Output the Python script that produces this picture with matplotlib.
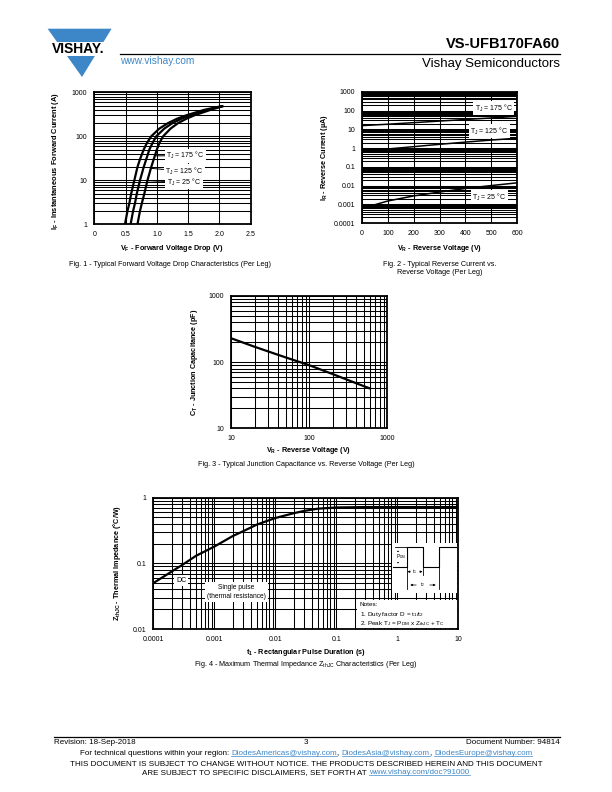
import numpy as np
import matplotlib.pyplot as plt
from matplotlib.ticker import LogLocator, NullLocator, NullFormatter
from matplotlib.patches import Polygon, Rectangle

plt.rcParams['font.family'] = ['Liberation Sans', 'DejaVu Sans']
plt.rcParams['mathtext.fontset'] = 'custom'
plt.rcParams['mathtext.rm'] = 'Liberation Sans'
plt.rcParams['mathtext.bf'] = 'Liberation Sans:bold'
plt.rcParams['mathtext.it'] = 'Liberation Sans:italic'

W, H = 612, 792
BLUE = '#3d87c8'

# Fig. 1 - forward current vs forward voltage
if_levels = [1, 2, 3, 5, 10, 20, 30, 50, 70, 100, 150, 200, 250, 300, 400, 480]
vf_175 = [0.49, 0.53, 0.56, 0.59, 0.64, 0.69, 0.73, 0.79, 0.84, 0.91, 1.04, 1.18,
          1.32, 1.47, 1.76, 2.02]
vf_125 = [0.58, 0.62, 0.65, 0.68, 0.73, 0.79, 0.83, 0.88, 0.93, 0.99, 1.12, 1.25,
          1.39, 1.53, 1.81, 2.04]
vf_25 = [0.69, 0.73, 0.76, 0.80, 0.85, 0.91, 0.95, 1.00, 1.04, 1.10, 1.22, 1.34,
         1.47, 1.60, 1.86, 2.05]
f1_xticks = [0, 0.5, 1.0, 1.5, 2.0, 2.5]
f1_xlabels = ['0', '0.5', '1.0', '1.5', '2.0', '2.5']
f1_yticks = [1, 10, 100, 1000]

# Fig. 2 - reverse current vs reverse voltage
vr = [0, 100, 200, 300, 400, 500, 600]
ir_175 = [16, 19, 23, 28, 34, 41, 50]
ir_125 = [0.6, 0.9, 1.2, 1.6, 2.1, 2.7, 3.4]
ir_25 = [0.0006, 0.0015, 0.0028, 0.0045, 0.007, 0.010, 0.014]
f2_yticks = [0.0001, 0.001, 0.01, 0.1, 1, 10, 100, 1000]
f2_ylabels = ['0.0001', '0.001', '0.01', '0.1', '1', '10', '100', '1000']

# Fig. 3 - junction capacitance
vr_cap = [10, 20, 30, 50, 100, 200, 400, 600]
ct = [230, 171, 145, 118, 90, 66, 48, 40]

# Fig. 4 - thermal impedance
t1 = [1e-4, 2e-4, 3e-4, 5e-4, 1e-3, 2e-3, 3e-3, 5e-3, 1e-2, 2e-2, 3e-2,
      5e-2, 0.1, 0.3, 1, 3, 10]
zth = [0.05, 0.075, 0.095, 0.13, 0.18, 0.26, 0.31, 0.39, 0.49, 0.58, 0.63,
       0.68, 0.71, 0.72, 0.72, 0.72, 0.72]
f4_xticks = [1e-4, 1e-3, 1e-2, 0.1, 1, 10]
f4_xlabels = ['0.0001', '0.001', '0.01', '0.1', '1', '10']
f4_yticks = [0.01, 0.1, 1]
f4_ylabels = ['0.01', '0.1', '1']

fig = plt.figure(figsize=(6.12, 7.92), dpi=100)

# page layer in pixel coordinates
page = fig.add_axes([0, 0, 1, 1])
page.set_xlim(0, W)
page.set_ylim(H, 0)
page.axis('off')


def make_ax(x0, y0, x1, y1):
    ax = fig.add_axes([x0 / W, 1 - y1 / H, (x1 - x0) / W, (y1 - y0) / H])
    for s in ax.spines.values():
        s.set_linewidth(1.3)
        s.set_zorder(10)
    ax.tick_params(which='both', length=0, labelsize=5, pad=5)
    return ax


def log_grid(axis):
    axis.set_major_locator(LogLocator(base=10, numticks=30))
    axis.set_minor_locator(LogLocator(base=10, subs=np.arange(2, 10), numticks=60))
    axis.set_minor_formatter(NullFormatter())


GRID = dict(color='black', linewidth=0.75)
box = dict(facecolor='white', edgecolor='none', pad=1.0)

# ---------------- Fig. 1 ----------------
ax1 = make_ax(94.3, 92.3, 250.7, 224.3)
ax1.set_yscale('log')
ax1.set_xlim(0, 2.5)
ax1.set_ylim(1, 1000)
log_grid(ax1.yaxis)
ax1.set_xticks(f1_xticks, f1_xlabels)
ax1.set_yticks(f1_yticks, [str(v) for v in f1_yticks])
ax1.xaxis.set_minor_locator(NullLocator())
ax1.grid(True, which='both', axis='y', **GRID)
ax1.grid(True, which='major', axis='x', **GRID)
for v in (vf_175, vf_125, vf_25):
    ax1.plot(v, if_levels, color='black', lw=1.6)
lead = dict(arrowstyle='-', lw=0.7, shrinkA=0, shrinkB=0)
ax1.annotate(r'$\mathregular{T_J}$ = 175 °C', xy=(0.99, 36), xytext=(1.15, 36),
             fontsize=5, va='center', bbox=box, arrowprops=lead)
ax1.annotate(r'$\mathregular{T_J}$ = 125 °C', xy=(0.91, 18.7), xytext=(1.13, 16),
             fontsize=5, va='center', bbox=box, arrowprops=lead)
ax1.annotate(r'$\mathregular{T_J}$ = 25 °C', xy=(0.86, 9.8), xytext=(1.16, 9),
             fontsize=5, va='center', bbox=box, arrowprops=lead)
page.text(172, 249, r'$\mathbf{V_F}$ - Forward Voltage Drop (V)', fontsize=5.2,
          fontweight='bold', ha='center', va='center')
page.text(56, 161, r'$\mathbf{I_F}$ - Instantaneous Forward Current (A)', fontsize=5.4,
          fontweight='bold', ha='center', va='center', rotation=90)
page.text(170, 264, 'Fig. 1 - Typical Forward Voltage Drop Characteristics (Per Leg)',
          fontsize=5.2, ha='center', va='center')

# ---------------- Fig. 2 ----------------
ax2 = make_ax(362, 92, 517, 223)
ax2.set_yscale('log')
ax2.set_xlim(0, 600)
ax2.set_ylim(0.0001, 1000)
log_grid(ax2.yaxis)
ax2.set_yticks(f2_yticks, f2_ylabels)
ax2.set_xticks(vr, [str(v) for v in vr])
ax2.grid(True, which='both', axis='y', **GRID)
ax2.grid(True, which='major', axis='x', **GRID)
for i in (ir_175, ir_125, ir_25):
    ax2.plot(vr, i, color='black', lw=1.1)
ax2.text(436, 137, r'$\mathregular{T_J}$ = 175 °C', fontsize=5, va='center', bbox=box)
ax2.text(418, 8.2, r'$\mathregular{T_J}$ = 125 °C', fontsize=5, va='center', bbox=box)
ax2.text(426, 0.0024, r'$\mathregular{T_J}$ = 25 °C', fontsize=5, va='center', bbox=box)
page.text(440, 248, r'$\mathbf{V_R}$ - Reverse Voltage (V)', fontsize=5.2,
          fontweight='bold', ha='center', va='center')
page.text(324, 158, r'$\mathbf{I_R}$ - Reverse Current (µA)', fontsize=5.2,
          fontweight='bold', ha='center', va='center', rotation=90)
page.text(440, 268.5, 'Fig. 2 - Typical Reverse Current vs.\nReverse Voltage (Per Leg)',
          fontsize=5.2, ha='center', va='center', linespacing=1.25)

# ---------------- Fig. 3 ----------------
ax3 = make_ax(231, 296, 387.3, 428.3)
ax3.set_xscale('log')
ax3.set_yscale('log')
ax3.set_xlim(10, 1000)
ax3.set_ylim(10, 1000)
log_grid(ax3.xaxis)
log_grid(ax3.yaxis)
ax3.set_xticks([10, 100, 1000], ['10', '100', '1000'])
ax3.set_yticks([10, 100, 1000], ['10', '100', '1000'])
ax3.grid(True, which='both', **GRID)
ax3.plot(vr_cap, ct, color='black', lw=1.6)
page.text(309, 451, r'$\mathbf{V_R}$ - Reverse Voltage (V)', fontsize=5.2,
          fontweight='bold', ha='center', va='center')
page.text(195, 362, r'$\mathbf{C_T}$ - Junction Capacitance (pF)', fontsize=5.2,
          fontweight='bold', ha='center', va='center', rotation=90)
page.text(306, 464, 'Fig. 3 - Typical Junction Capacitance vs. Reverse Voltage (Per Leg)',
          fontsize=5.2, ha='center', va='center')

# ---------------- Fig. 4 ----------------
ax4 = make_ax(153.3, 497.7, 458.3, 629)
ax4.set_xscale('log')
ax4.set_yscale('log')
ax4.set_xlim(1e-4, 10)
ax4.set_ylim(0.01, 1)
log_grid(ax4.xaxis)
log_grid(ax4.yaxis)
ax4.set_xticks(f4_xticks, f4_xlabels)
ax4.set_yticks(f4_yticks, f4_ylabels)
ax4.grid(True, which='both', **GRID)
ax4.plot(t1, zth, color='black', lw=1.6)
ax4.text(2.85e-4, 0.0544, 'DC', fontsize=5, ha='center', va='center',
         bbox=dict(facecolor='white', edgecolor='none', pad=1.5))
ax4.text(2.3e-3, 0.0366, 'Single pulse\n(thermal resistance)', fontsize=4.8,
         ha='center', va='center', linespacing=1.3,
         bbox=dict(facecolor='white', edgecolor='none', pad=1.5))

notes = ['Notes:',
         '1. Duty factor D = $\\mathregular{t_1/t_2}$',
         '2. Peak $\\mathregular{T_J}$ = $\\mathregular{P_{DM}}$ x '
         '$\\mathregular{Z_{thJC}}$ + $\\mathregular{T_C}$']

# pulse sketch (schematic, pixel coordinates)
ins = fig.add_axes([392 / W, 1 - 593 / H, 65 / W, 50 / H])
ins.set_xlim(392, 457)
ins.set_ylim(593, 543)
ins.set_facecolor('white')
ins.set_xticks([])
ins.set_yticks([])
for s in ins.spines.values():
    s.set_visible(False)
wx = [393, 407, 407, 423, 423, 439, 439, 457]
wy = [566.7, 566.7, 547.3, 547.3, 566.7, 566.7, 547.3, 547.3]
ins.plot(wx, wy, color='black', lw=0.8)
ins.plot([395, 407], [547.3, 547.3], color='black', lw=0.6)
arr = dict(arrowstyle='-|>', lw=0.5, mutation_scale=3, color='black')
ins.annotate('', xy=(398, 547.5), xytext=(398, 556), arrowprops=arr)
ins.annotate('', xy=(398, 566.5), xytext=(398, 558), arrowprops=arr)
ins.text(401.5, 557, r'$\mathregular{P_{DM}}$', fontsize=3.4, ha='center', va='center',
         bbox=dict(facecolor='white', edgecolor='none', pad=0.3))
ins.plot([407, 407], [566.7, 589], color='black', lw=0.6)
ins.plot([423, 423], [568, 575], color='black', lw=0.6)
ins.plot([439, 439], [566.7, 589], color='black', lw=0.6)
ins.annotate('', xy=(407.5, 571.7), xytext=(413, 571.7), arrowprops=arr)
ins.annotate('', xy=(422.5, 571.7), xytext=(417, 571.7), arrowprops=arr)
ins.text(415, 571.2, r'$\mathregular{t_1}$', fontsize=3.4, ha='center', va='center')
ins.annotate('', xy=(407.5, 585), xytext=(419, 585), arrowprops=arr)
ins.annotate('', xy=(438.5, 585), xytext=(427, 585), arrowprops=arr)
ins.text(423, 584.5, r'$\mathregular{t_2}$', fontsize=3.4, ha='center', va='center')

# notes on a top layer
top = fig.add_axes([0, 0, 1, 1])
top.set_xlim(0, W)
top.set_ylim(H, 0)
top.axis('off')
top.add_patch(Rectangle((357, 600), 100, 28, facecolor='white', edgecolor='none'))
for k, line in enumerate(notes):
    top.text(360, 605 + 9.2 * k, line, fontsize=4.6, ha='left', va='center')

page.text(306, 652, r'$\mathbf{t_1}$ - Rectangular Pulse Duration (s)', fontsize=5.2,
          fontweight='bold', ha='center', va='center')
page.text(117, 563, r'$\mathbf{Z_{thJC}}$ - Thermal Impedance (°C/W)', fontsize=5.2,
          fontweight='bold', ha='center', va='center', rotation=90)
page.text(306, 664, r'Fig. 4 - Maximum Thermal Impedance $\mathregular{Z_{thJC}}$ Characteristics (Per Leg)',
          fontsize=5.2, ha='center', va='center')

# ---------------- header ----------------
page.add_patch(Polygon([[47.6, 28.7], [111.6, 28.7], [82, 77]], closed=True,
                       facecolor=BLUE, edgecolor='none'))
page.add_patch(Rectangle((40, 41.5), 76, 14.5, facecolor='white', edgecolor='none'))
page.text(52, 48.8, 'VISHAY.', fontsize=10, fontweight='bold', ha='left', va='center')
page.plot([119.6, 560], [53.6, 53.6], color='black', lw=0.9)
page.text(560, 48, 'VS-UFB170FA60', fontsize=10.5, fontweight='bold', ha='right',
          va='baseline')
page.text(560, 64, 'Vishay Semiconductors', fontsize=9.5, ha='right', va='center')
page.text(120, 60.5, 'www.vishay.com', fontsize=7.3, color=BLUE, ha='left', va='center')

# ---------------- footer ----------------
renderer = fig.canvas.get_renderer()


def text_w(s, size):
    t = page.text(0, 0, s + '|', fontsize=size)
    t0 = page.text(0, 0, '|', fontsize=size)
    w = t.get_window_extent(renderer).width - t0.get_window_extent(renderer).width
    t.remove()
    t0.remove()
    return w


def rich_line(y, parts, size=5.8):
    full = ''.join(p for p, _ in parts)
    x0 = 306 - text_w(full, size) / 2
    prefix = ''
    for s, c in parts:
        xs = x0 + text_w(prefix, size) if prefix else x0
        page.text(xs, y, s, fontsize=size, color=c, ha='left', va='baseline')
        if c != 'black':
            page.plot([xs, xs + text_w(s, size)], [y + 1.2, y + 1.2], color=c, lw=0.5)
        prefix += s


page.plot([54, 560], [737, 737], color='black', lw=0.9)
page.text(54, 744, 'Revision: 18-Sep-2018', fontsize=5.8, ha='left', va='baseline')
page.text(306, 744, '3', fontsize=5.8, ha='center', va='baseline')
page.text(560, 744, 'Document Number: 94814', fontsize=5.8, ha='right', va='baseline')
rich_line(755, [('For technical questions within your region: ', 'black'),
                ('DiodesAmericas@vishay.com', BLUE), (', ', 'black'),
                ('DiodesAsia@vishay.com', BLUE), (', ', 'black'),
                ('DiodesEurope@vishay.com', BLUE)])
rich_line(766, [('THIS DOCUMENT IS SUBJECT TO CHANGE WITHOUT NOTICE. THE PRODUCTS '
                 'DESCRIBED HEREIN AND THIS DOCUMENT', 'black')])
rich_line(774, [('ARE SUBJECT TO SPECIFIC DISCLAIMERS, SET FORTH AT ', 'black'),
                ('www.vishay.com/doc?91000', BLUE)])

fig.savefig('out.png', dpi=100)
